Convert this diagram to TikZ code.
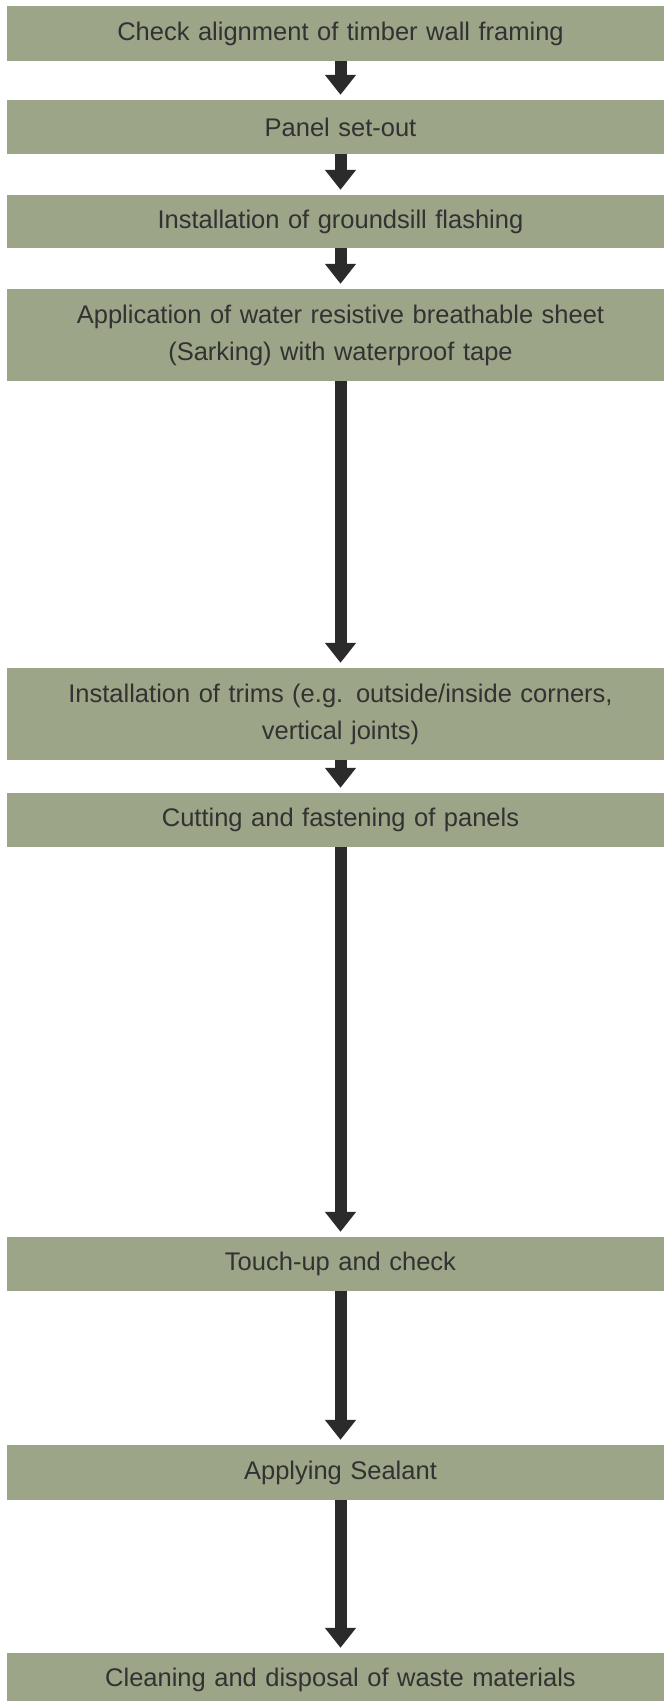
\documentclass[tikz,border=0pt]{standalone}
\usepackage{fontspec}
\setmainfont[WordSpace=0.5]{Liberation Sans}
\usetikzlibrary{arrows.meta}
\definecolor{boxgreen}{RGB}{156,165,135}
\definecolor{arrowdark}{RGB}{43,43,43}
\definecolor{txt}{RGB}{50,50,50}
\begin{document}
\begin{tikzpicture}[x=1pt,y=1pt,
  stepbox/.style={fill=boxgreen,draw=none,minimum width=668pt,inner sep=0pt,
    text width=640pt,align=center,text=txt,font=\fontsize{25.5}{37}\selectfont},
  flow/.style={draw=arrowdark,line width=12pt,-{Triangle[width=30pt,length=20pt]}}]
\useasboundingbox (0,0) rectangle (664,-1701);
\node[stepbox,minimum height=55pt] (b1) at (340.5,-33.5) {Check alignment of timber wall framing};
\node[stepbox,minimum height=54pt] (b2) at (340.5,-127) {Panel set-out};
\node[stepbox,minimum height=53pt] (b3) at (340.5,-221.5) {Installation of groundsill flashing};
\node[stepbox,minimum height=92pt] (b4) at (340.5,-335) {Application of water resistive breathable sheet\\(Sarking) with waterproof tape};
\node[stepbox,minimum height=92pt] (b5) at (340.5,-714) {Installation of trims (e.g. outside/inside corners,\\vertical joints)};
\node[stepbox,minimum height=54pt] (b6) at (340.5,-820) {Cutting and fastening of panels};
\node[stepbox,minimum height=54pt] (b7) at (340.5,-1264) {Touch-up and check};
\node[stepbox,minimum height=55pt] (b8) at (340.5,-1472.5) {Applying Sealant};
\node[stepbox,minimum height=53pt] (b9) at (340.5,-1679.5) {Cleaning and disposal of waste materials};
\foreach \a/\b in {b1/b2,b2/b3,b3/b4,b4/b5,b5/b6,b6/b7,b7/b8,b8/b9}{
  \draw[flow] (\a.south) -- ([yshift=5pt]\b.north);
}
\end{tikzpicture}
\end{document}
